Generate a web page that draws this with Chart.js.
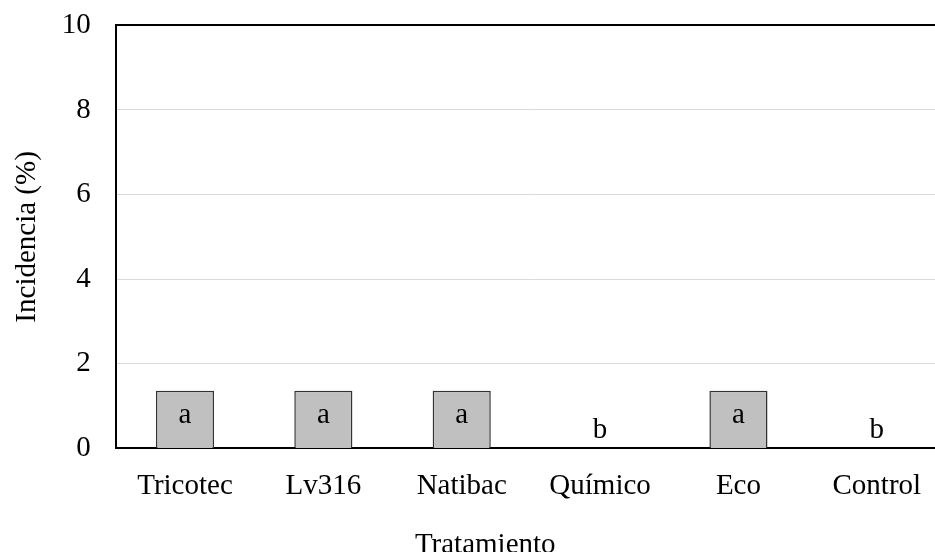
<!DOCTYPE html>
<html>
<head>
<meta charset="utf-8">
<script src="https://cdn.jsdelivr.net/npm/chart.js@4/dist/chart.umd.min.js"></script>
<style>
    html, body { margin: 0; padding: 0; background: #fff; overflow: hidden; }
    #wrap { width: 950px; height: 552px; }
</style>
</head>
<body>
<div id="wrap"><canvas id="incidenciaChart"></canvas></div>
<script>
// Données du graphique
const tratamientos = ['Tricotec', 'Lv316', 'Natibac', 'Químico', 'Eco', 'Control'];
const incidencia = [1.36, 1.36, 1.36, 0, 1.36, 0];
const letras = ['a', 'a', 'a', 'b', 'a', 'b'];
const yTicks = [0, 2, 4, 6, 8, 10];

const fuente = '"Liberation Serif", "Times New Roman", serif';
const tamano = 29;
const tituloX = 'Tratamiento';

// Lettres de significativité dans / au-dessus des barres
const letrasPlugin = {
    id: 'letras',
    afterDatasetsDraw(chart) {
        const ctx = chart.ctx;
        const meta = chart.getDatasetMeta(0);
        ctx.save();
        ctx.font = tamano + 'px ' + fuente;
        ctx.fillStyle = '#000';
        ctx.textAlign = 'center';
        meta.data.forEach((bar, i) => {
            if (incidencia[i] > 0) {
                ctx.textBaseline = 'top';
                ctx.fillText(letras[i], bar.x, bar.y + 10);
            } else {
                ctx.textBaseline = 'alphabetic';
                ctx.fillText(letras[i], bar.x, bar.y - 10);
            }
        });
        ctx.restore();
    },
    // Titre de l'axe X décalé vers la gauche comme dans l'original
    afterDraw(chart) {
        const ctx = chart.ctx;
        const area = chart.chartArea;
        const x = area.left + (area.right - area.left) * 0.445;
        const y = chart.scales.x.bottom - tamano * 1.2 / 2;
        ctx.save();
        ctx.font = tamano + 'px ' + fuente;
        ctx.fillStyle = '#000';
        ctx.textAlign = 'center';
        ctx.textBaseline = 'middle';
        ctx.fillText(tituloX, x, y);
        ctx.restore();
    }
};

const ctx = document.getElementById('incidenciaChart').getContext('2d');
new Chart(ctx, {
    type: 'bar',
    data: {
        labels: tratamientos,
        datasets: [{
            data: incidencia,
            backgroundColor: '#c0c0c0',
            borderColor: '#333',
            borderWidth: 1.5,
            barPercentage: 0.42,
            categoryPercentage: 1
        }]
    },
    options: {
        responsive: true,
        maintainAspectRatio: false,
        animation: false,
        layout: { padding: { top: 0, right: 4, left: 0, bottom: -11 } },
        plugins: {
            legend: { display: false },
            tooltip: { enabled: false }
        },
        scales: {
            x: {
                grid: { display: false, drawTicks: false },
                border: { color: '#000', width: 2 },
                ticks: {
                    color: '#000',
                    padding: 21,
                    font: { family: fuente, size: tamano }
                },
                title: {
                    // place réservée, le texte est dessiné par le plugin
                    display: true,
                    text: tituloX,
                    color: 'rgba(0,0,0,0)',
                    padding: { top: 3, bottom: 0 },
                    font: { family: fuente, size: tamano }
                }
            },
            y: {
                min: 0,
                max: 10,
                afterBuildTicks: axis => {
                    axis.ticks = yTicks.map(v => ({ value: v }));
                },
                grid: {
                    drawTicks: true,
                    tickLength: 17,
                    tickColor: 'rgba(0,0,0,0)',
                    color: c => c.tick.value === 10 ? '#000' : (c.tick.value === 0 ? 'rgba(0,0,0,0)' : '#d9d9d9'),
                    lineWidth: c => c.tick.value === 10 ? 2 : 1
                },
                border: { color: '#000', width: 2 },
                ticks: {
                    color: '#000',
                    padding: 8,
                    font: { family: fuente, size: tamano }
                },
                title: {
                    display: true,
                    text: 'Incidencia (%)',
                    color: '#000',
                    padding: { top: 10, bottom: 9 },
                    font: { family: fuente, size: tamano }
                }
            }
        }
    },
    plugins: [letrasPlugin]
});
</script>
</body>
</html>
